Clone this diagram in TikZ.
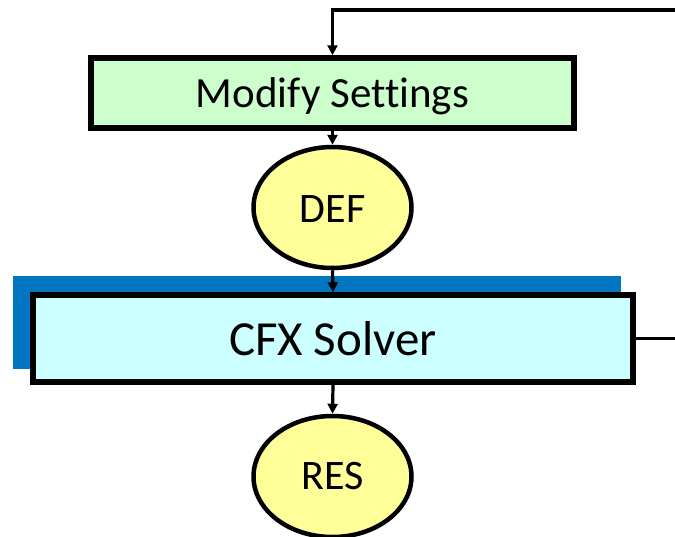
\documentclass[tikz,border=0pt]{standalone}
\usepackage{fontspec}
\setmainfont[Ligatures=CommonOff]{Carlito}
\usetikzlibrary{shapes.geometric,arrows.meta}
\definecolor{boxgreen}{HTML}{CCFFCC}
\definecolor{boxcyan}{HTML}{CCFFFF}
\definecolor{ellyellow}{HTML}{FFFF99}
\definecolor{barblue}{HTML}{0077C0}
\begin{document}
\begin{tikzpicture}[x=1pt,y=-1pt,
  procbox/.style={draw=black,line width=5.5pt,rectangle,inner sep=0pt,text depth=0pt},
  fileell/.style={draw=black,line width=4.5pt,ellipse,inner sep=0pt,fill=ellyellow,text depth=0pt,
     minimum width=158pt,minimum height=121pt,font=\fontsize{42}{48}\selectfont},
  conn/.style={draw=black,line width=3.2pt,-{Triangle[length=10pt,width=10pt]}},
  plainconn/.style={draw=black,line width=3.2pt}]
\clip (0,0) rectangle (675,536);
\useasboundingbox (0,0) rectangle (675,536);
\node[fill=barblue,rectangle,inner sep=0pt,minimum width=608pt,minimum height=93pt] (bar) at (317,322.5) {};
\node[procbox,fill=boxgreen,minimum width=483pt,minimum height=70pt,text height=28.6pt,font=\fontsize{43}{50}\selectfont] (mod) at (332.5,93) {Modify Settings};
\node[fileell,text height=29pt] (def) at (332.5,207.5) {DEF};
\node[procbox,fill=boxcyan,minimum width=600pt,minimum height=87pt,text height=34pt,font=\fontsize{49}{56}\selectfont] (cfx) at (333,338.5) {CFX Solver};
\node[fileell,text height=26.5pt] (res) at (332.5,476.5) {RES};
\coordinate (topR) at (676,10);
\coordinate (rightR) at (676,338.5);
\draw[conn] (topR) -| (mod.north);
\draw[conn] (mod.south) -- (def.north);
\draw[conn] (def.south) -- (cfx.north);
\draw[conn] (cfx.south) -- (res.north);
\draw[plainconn] (cfx.east) -- (rightR);
\end{tikzpicture}
\end{document}
